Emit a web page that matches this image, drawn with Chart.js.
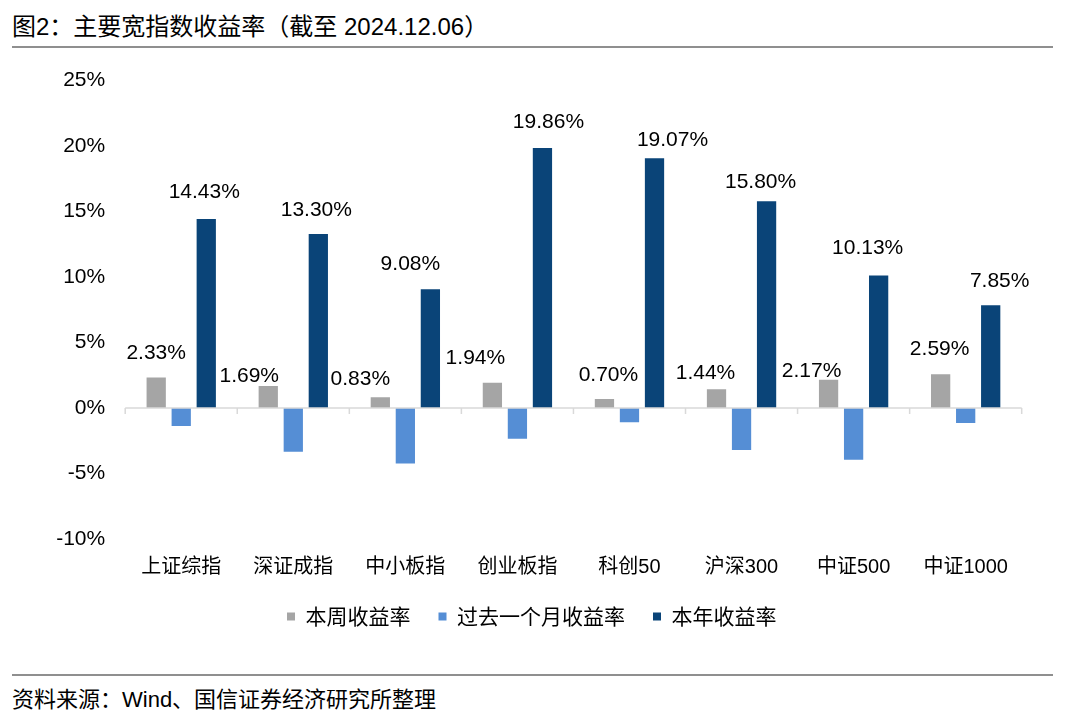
<!DOCTYPE html>
<html>
<head>
<meta charset="utf-8">
<script src="https://cdn.jsdelivr.net/npm/chart.js@4.4.1/dist/chart.umd.min.js"></script>
<style>
  html, body { margin: 0; padding: 0; background: #fff; }
  body {
    width: 1080px; height: 721px; position: relative; overflow: hidden;
    font-family: "Liberation Sans", "Noto Sans CJK SC", sans-serif; color: #000;
  }
  .title { position: absolute; left: 12px; top: 12px; font-size: 24px; line-height: 30px; white-space: nowrap; }
  .rule { position: absolute; left: 12px; width: 1041px; height: 2px; background: #8f8f8f; }
  .source { position: absolute; left: 12px; top: 685px; font-size: 22px; line-height: 30px; white-space: nowrap; }
  #wrap { position: absolute; left: 0; top: 0; width: 1080px; height: 650px; }
</style>
</head>
<body>
<div class="title">图2：主要宽指数收益率（截至 2024.12.06）</div>
<div class="rule" style="top:46px"></div>
<div id="wrap"><canvas id="myChart" width="1080" height="650"></canvas></div>
<div class="rule" style="top:674px"></div>
<div class="source">资料来源：Wind、国信证券经济研究所整理</div>

<script>
'use strict';

// Data (%)
var categories = ['上证综指', '深证成指', '中小板指', '创业板指', '科创50', '沪深300', '中证500', '中证1000'];
var weekReturn = [2.33, 1.69, 0.83, 1.94, 0.70, 1.44, 2.17, 2.59];
var monthReturn = [-1.37, -3.33, -4.24, -2.34, -1.09, -3.20, -3.94, -1.14];
var yearReturn = [14.43, 13.30, 9.08, 19.86, 19.07, 15.80, 10.13, 7.85];
var yMin = -10;
var yMax = 25;
var yStep = 5;

// Zero line with small ticks between categories
var zeroAxis = {
  id: 'zeroAxis',
  afterDatasetsDraw: function(chart) {
    var x = chart.scales.x;
    var y0 = chart.scales.y.getPixelForValue(0);
    var ctx = chart.ctx;
    var n = categories.length;
    ctx.save();
    ctx.strokeStyle = '#d9d9d9';
    ctx.lineWidth = 1.5;
    ctx.beginPath();
    ctx.moveTo(x.left, y0);
    ctx.lineTo(x.right, y0);
    for (var i = 0; i <= n; i++) {
      var px = i === 0 ? x.left : i === n ? x.right : (x.getPixelForValue(i - 1) + x.getPixelForValue(i)) / 2;
      ctx.moveTo(px, y0);
      ctx.lineTo(px, y0 + 6);
    }
    ctx.stroke();
    ctx.restore();
  }
};

// Value labels (nudged like the original)
var barLabels = {
  id: 'barLabels',
  afterDatasetsDraw: function(chart, args, opts) {
    var ctx = chart.ctx;
    ctx.save();
    ctx.font = opts.font;
    ctx.fillStyle = opts.color;
    ctx.textAlign = 'center';
    ctx.textBaseline = 'middle';
    opts.series.forEach(function(s) {
      var meta = chart.getDatasetMeta(s.dataset);
      var values = chart.data.datasets[s.dataset].data;
      meta.data.forEach(function(bar, i) {
        ctx.fillText(values[i].toFixed(2) + '%', bar.x + s.dx[i], bar.y - s.dy[i]);
      });
    });
    ctx.restore();
  }
};

var ctx = document.getElementById('myChart').getContext('2d');

var chart = new Chart(ctx, {
  type: 'bar',
  data: {
    labels: categories,
    datasets: [
      {
        label: '本周收益率',
        backgroundColor: '#a5a5a5',
        data: weekReturn
      },
      {
        label: '过去一个月收益率',
        backgroundColor: '#558ed5',
        data: monthReturn
      },
      {
        label: '本年收益率',
        backgroundColor: '#0a4478',
        data: yearReturn
      }
    ]
  },
  options: {
    responsive: false,
    animation: false,
    categoryPercentage: 0.67,
    barPercentage: 0.77,
    // left padding only pushes the legend right; y axis width is reduced to match
    layout: { padding: { top: 80.7, right: 58.3, bottom: 13, left: 41.8 } },
    scales: {
      x: {
        grid: { display: false, drawTicks: false },
        border: { display: false },
        ticks: {
          padding: 16,
          color: '#000',
          font: { family: '"Liberation Sans", "Noto Sans CJK SC"', size: 20 }
        },
        afterFit: function(scale) { scale.height = 39; }
      },
      y: {
        min: yMin,
        max: yMax,
        grid: { display: false, drawTicks: false },
        border: { display: false },
        ticks: {
          stepSize: yStep,
          padding: 20,
          color: '#000',
          font: { family: '"Liberation Sans", Arial', size: 21 },
          callback: function(v) { return v + '%'; }
        },
        afterFit: function(scale) { scale.width = 125.2 - 41.8; }
      }
    },
    plugins: {
      tooltip: { enabled: false },
      legend: {
        position: 'bottom',
        labels: {
          boxWidth: 8,
          boxHeight: 8,
          padding: 28,
          color: '#000',
          font: { family: '"Noto Sans CJK SC"', size: 21 }
        }
      },
      barLabels: {
        font: '21px "Liberation Sans", Arial',
        color: '#000',
        series: [
          { dataset: 0, dx: [0, -19, -20, -17, 4, -11, -17, -1], dy: [24, 10, 18, 24, 24, 16, 8, 25] },
          { dataset: 2, dx: [-2, -2, -20, 6, 18, -6, -11, 9], dy: [27, 24, 25, 26, 18, 19, 27, 24] }
        ]
      }
    }
  },
  plugins: [zeroAxis, barLabels]
});
</script>
</body>
</html>
